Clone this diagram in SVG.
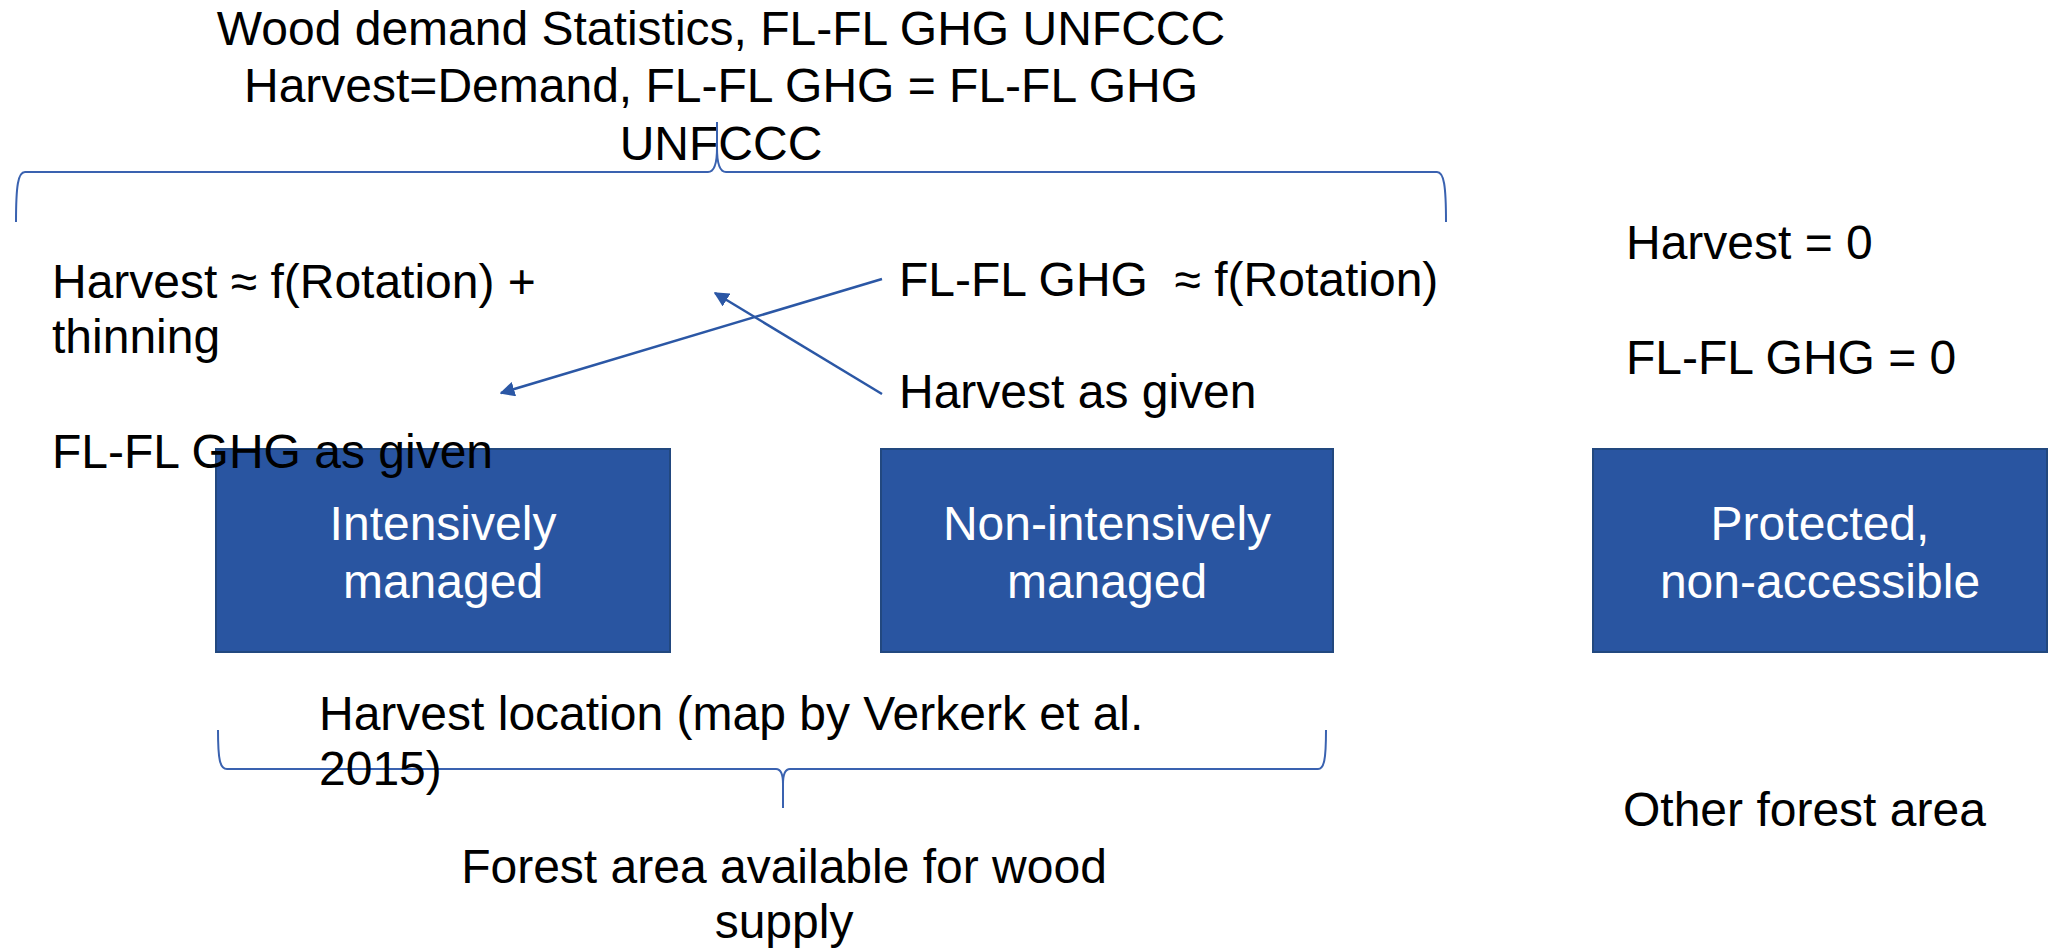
<svg xmlns="http://www.w3.org/2000/svg" width="2056" height="951" viewBox="0 0 2056 951">
  <style>
    text { font-family: "Liberation Sans", Arial, sans-serif; font-size: 48px; fill: #000; white-space: pre; }
    .mid { text-anchor: middle; }
    .box { fill: #2955A1; stroke: #22487F; stroke-width: 2; }
    .boxlabel { fill: #ffffff; text-anchor: middle; }
    .brace { fill: none; stroke: #3A62B0; stroke-width: 2; }
    .arrow { fill: none; stroke: #2B57A5; stroke-width: 2.5; }
  </style>
  <defs>
    <marker id="head" viewBox="0 0 10 10" refX="9" refY="5" markerWidth="6" markerHeight="6" orient="auto" markerUnits="strokeWidth">
      <path d="M0,0 L10,5 L0,10 Z" fill="#2B57A5"/>
    </marker>
  </defs>
  <rect width="2056" height="951" fill="#ffffff"/>

  <!-- heading above the upper brace -->
  <g id="heading">
    <text class="mid" x="721" y="45">Wood demand Statistics, FL-FL GHG UNFCCC</text>
    <text class="mid" x="721" y="102">Harvest=Demand, FL-FL GHG = FL-FL GHG</text>
    <text class="mid" x="721" y="160">UNFCCC</text>
  </g>

  <!-- annotations -->
  <g id="note-intensive">
    <text x="52" y="298">Harvest ≈ f(Rotation) +</text>
    <text x="52" y="353">thinning</text>
  </g>
  <g id="note-nonintensive">
    <text x="899" y="296">FL-FL GHG  ≈ f(Rotation)</text>
    <text x="899" y="408">Harvest as given</text>
  </g>
  <g id="note-protected">
    <text x="1626" y="259">Harvest = 0</text>
    <text x="1626" y="374">FL-FL GHG = 0</text>
  </g>

  <!-- connectors: braces and arrows -->
  <g id="connectors">
    <path class="brace" d="M16,222 C16,186 18,172 25,172 L708,172 C714,172 717,164 717,148 L717,122 L717,148 C717,164 720,172 726,172 L1437,172 C1444,172 1446,186 1446,222"/>
    <path class="brace" d="M218,730 C218,760 220,769 227,769 L776,769 C781,769 783,774 783,784 L783,808 L783,784 C783,774 785,769 790,769 L1318,769 C1324,769 1326,760 1326,730"/>
    <line class="arrow" x1="882" y1="279" x2="501" y2="393" marker-end="url(#head)"/>
    <line class="arrow" x1="882" y1="394" x2="715" y2="293" marker-end="url(#head)"/>
  </g>

  <!-- boxes -->
  <g id="node-intensive">
    <rect class="box" x="216" y="449" width="454" height="203"/>
    <text class="boxlabel" x="443" y="540">Intensively</text>
    <text class="boxlabel" x="443" y="598">managed</text>
  </g>
  <g id="node-nonintensive">
    <rect class="box" x="881" y="449" width="452" height="203"/>
    <text class="boxlabel" x="1107" y="540">Non-intensively</text>
    <text class="boxlabel" x="1107" y="598">managed</text>
  </g>
  <g id="node-protected">
    <rect class="box" x="1593" y="449" width="454" height="203"/>
    <text class="boxlabel" x="1820" y="540">Protected,</text>
    <text class="boxlabel" x="1820" y="598">non-accessible</text>
  </g>

  <!-- label overlapping the first box -->
  <g id="note-intensive-ghg">
    <text x="52" y="468">FL-FL GHG as given</text>
  </g>

  <!-- lower labels -->
  <g id="note-location">
    <text x="319" y="730">Harvest location (map by Verkerk et al.</text>
    <text x="319" y="785">2015)</text>
  </g>
  <g id="label-available">
    <text class="mid" x="784" y="883">Forest area available for wood</text>
    <text class="mid" x="784" y="938">supply</text>
  </g>
  <g id="label-other">
    <text x="1623" y="826">Other forest area</text>
  </g>
</svg>
